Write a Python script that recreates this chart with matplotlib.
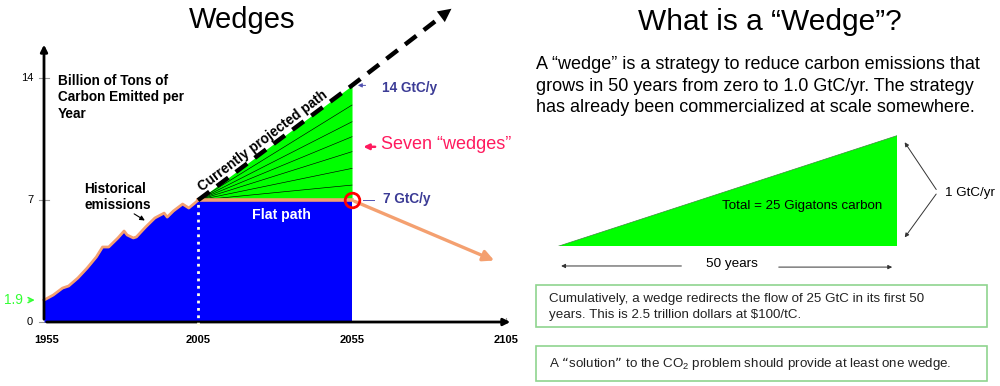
import matplotlib
matplotlib.use("Agg")
import matplotlib.pyplot as plt
from matplotlib.patches import Rectangle

plt.rcParams['font.family'] = ['Liberation Sans', 'DejaVu Sans']

# historical emissions (GtC/yr)
hist_years = [1955, 1958, 1961, 1963, 1966, 1969, 1972, 1974, 1976, 1979, 1981,
              1982, 1984, 1985, 1988, 1991, 1994, 1995, 1997, 2000, 2002, 2004, 2005]
hist_vals = [1.26, 1.55, 1.95, 2.07, 2.53, 3.10, 3.74, 4.31, 4.31, 4.83, 5.23,
             5.00, 4.83, 4.89, 5.46, 5.98, 6.26, 6.03, 6.38, 6.78, 6.55, 6.84, 7.0]

# flat path and projected path
flat_years = [2005, 2055]
flat_vals = [7.0, 7.0]
proj_years = [2005, 2055, 2088]
proj_vals = [7.0, 13.6, 18.1]
# wedge boundaries at 2055
wedge_tops = [7.87, 8.83, 9.79, 10.65, 11.51, 12.47]
# orange "stabilise then decline" arrow
decline_years = [2055, 2102]
decline_vals = [7.0, 3.47]

ytick_vals = [0, 7, 14]
xtick_years = [1955, 2005, 2055, 2105]

# one wedge: 0 -> 1 GtC/yr over 50 years
wedge_x = [0, 50, 50]
wedge_y = [0, 0, 1]

BLUE = '#0000FF'
GREEN = '#00FF00'
ORANGE = '#F4A070'
NAVY = '#3C3C96'
PINK = '#FF1A5E'

fig = plt.figure(figsize=(10, 3.86), dpi=100)


def fx(px):
    return px / 1000


def fy(py):
    return 1 - py / 386


# ---------------- left chart ----------------
ax = fig.add_axes([0.00088, 0.0035, 0.5452, 0.9917])
ax.set_xlim(1941, 2118)
ax.set_ylim(-3.6, 18.4)
ax.axis('off')

ax.fill_between(hist_years, 0, hist_vals, color=BLUE, lw=0, zorder=2)
ax.fill_between(flat_years, 0, flat_vals, color=BLUE, lw=0, zorder=2)
ax.fill_between(proj_years[:2], flat_vals, proj_vals[:2], color=GREEN, lw=0, zorder=2)
for t in wedge_tops:
    ax.plot([2005, 2055], [7, t], color='black', lw=0.45, zorder=3)

ax.plot([2005, 2005], [-0.2, 7], color='#FFFFE8', lw=2, ls=':', zorder=9)
ax.plot(hist_years, hist_vals, color=ORANGE, lw=2, zorder=5)
ax.plot(flat_years, flat_vals, color=ORANGE, lw=2.6, zorder=5)
ax.annotate('', xy=(decline_years[1], decline_vals[1]), xytext=(decline_years[0], decline_vals[0]),
            arrowprops=dict(arrowstyle='-|>', color=ORANGE, lw=2.4, mutation_scale=16), zorder=5)

ax.plot(proj_years[:2] + [proj_years[2] - 2.5], proj_vals[:2] + [proj_vals[2] - 0.34],
        color='black', lw=3.2, dashes=(3.2, 2.1), zorder=6)
ax.annotate('', xy=(proj_years[2], proj_vals[2]), xytext=(proj_years[2] - 3, proj_vals[2] - 0.4),
            arrowprops=dict(arrowstyle='-|>', color='black', lw=0, mutation_scale=24), zorder=6)

ax.plot([2055], [7], marker='o', ms=10.5, mfc='none', mec='red', mew=2, zorder=7)

# axes with arrows
ax.annotate('', xy=(1955, 16.1), xytext=(1955, 0),
            arrowprops=dict(arrowstyle='-|>', color='black', lw=2, mutation_scale=10), zorder=8)
ax.annotate('', xy=(2107.3, 0), xytext=(1955, 0),
            arrowprops=dict(arrowstyle='-|>', color='black', lw=2, mutation_scale=10), zorder=8)
for v in ytick_vals:
    ax.plot([1953.4, 1956.6], [v, v], color='#999999', lw=0.8, zorder=1)
    ax.text(1951.5, v, str(v), ha='right', va='center', fontsize=8)
for yr in xtick_years:
    ax.text(yr if yr != 1955 else 1956, -1.05, str(yr), ha='center', va='center',
            fontsize=8, fontweight='bold')
ax.plot([2105, 2105], [0, 0.25], color='#999999', lw=0.8)

ax.text(1959.4, 14.25, 'Billion of Tons of\nCarbon Emitted per\nYear', ha='left', va='top',
        fontsize=9.8, fontweight='bold', linespacing=1.22)
ax.text(1968, 8.05, 'Historical\nemissions', ha='left', va='top',
        fontsize=9.8, fontweight='bold', linespacing=1.18)
ax.annotate('', xy=(1988.5, 5.75), xytext=(1983.5, 6.3),
            arrowprops=dict(arrowstyle='-|>', color='black', lw=0.8, mutation_scale=7))
ax.text(2025.9, 10.41, 'Currently projected path', rotation=37, ha='center', va='center',
        fontsize=9.8, fontweight='bold', rotation_mode='anchor')
ax.text(2032, 6.15, 'Flat path', color='white', ha='center', va='center',
        fontsize=10.2, fontweight='bold', zorder=9)

ax.text(2064.6, 13.45, '14 GtC/y', color=NAVY, ha='left', va='center', fontsize=9.8, fontweight='bold')
ax.annotate('', xy=(2056, 13.6), xytext=(2060.3, 13.6),
            arrowprops=dict(arrowstyle='-|>', color='#5050B0', lw=0.7, mutation_scale=6))
ax.text(2065.0, 7.05, '7 GtC/y', color=NAVY, ha='left', va='center', fontsize=9.8, fontweight='bold')
ax.plot([2058.5, 2062], [7, 7], color='#5050B0', lw=0.7)
ax.text(2064.4, 10.2, 'Seven \u201cwedges\u201d', color=PINK, ha='left', va='center', fontsize=13)
ax.annotate('', xy=(2057.8, 10.07), xytext=(2063.4, 10.07),
            arrowprops=dict(arrowstyle='-|>', color=PINK, lw=1.8, mutation_scale=8))
ax.text(1948.2, 1.26, '1.9', color='#33FF33', ha='right', va='center', fontsize=9.8)
ax.annotate('', xy=(1952.9, 1.26), xytext=(1949.2, 1.26),
            arrowprops=dict(arrowstyle='->', color='#33FF33', lw=1.1, mutation_scale=9))

fig.text(fx(242), fy(28.5), 'Wedges', ha='center', va='baseline', fontsize=21)

# ---------------- right side ----------------
fig.text(fx(770), fy(30), 'What is a \u201cWedge\u201d?', ha='center', va='baseline', fontsize=21.5)
para = ['A \u201cwedge\u201d is a strategy to reduce carbon emissions that',
        'grows in 50 years from zero to 1.0 GtC/yr. The strategy',
        'has already been commercialized at scale somewhere.']
for i, line in enumerate(para):
    fig.text(fx(536.5), fy(69 + 21.6 * i), line, ha='left', va='baseline', fontsize=13)

ax2 = fig.add_axes([0.557, 0.3627, 0.340, 0.2876])
ax2.set_xlim(0, 50)
ax2.set_ylim(0, 1)
ax2.axis('off')
ax2.fill(wedge_x, wedge_y, color=GREEN, ec='#3a8a3a', lw=0.5)
ax2.text(24.2, 0.33, 'Total = 25 Gigatons carbon', ha='left', va='baseline', fontsize=9.6)

ax2.annotate('', xy=(50.9, 0.955), xytext=(56.0, 0.488),
             arrowprops=dict(arrowstyle='-|>', color='#333333', lw=0.7, mutation_scale=6),
             annotation_clip=False)
ax2.annotate('', xy=(50.9, 0.057), xytext=(56.0, 0.488),
             arrowprops=dict(arrowstyle='-|>', color='#333333', lw=0.7, mutation_scale=6),
             annotation_clip=False)
ax2.text(57.1, 0.48, '1 GtC/yr', ha='left', va='center', fontsize=9.6)

ax2.annotate('', xy=(0.2, -0.18), xytext=(18.7, -0.18),
             arrowprops=dict(arrowstyle='-|>', color='#333333', lw=0.7, mutation_scale=6),
             annotation_clip=False)
ax2.annotate('', xy=(49.7, -0.19), xytext=(32.2, -0.19),
             arrowprops=dict(arrowstyle='-|>', color='#333333', lw=0.7, mutation_scale=6),
             annotation_clip=False)
ax2.text(25.7, -0.165, '50 years', ha='center', va='center', fontsize=9.7)

for (y0, y1) in [(285, 327.3), (346, 381)]:
    fig.patches.append(Rectangle((fx(535.7), fy(y1)), fx(986.7) - fx(535.7), fy(y0) - fy(y1),
                                 transform=fig.transFigure, fill=False, ec='#8FD48F', lw=1.2))
fig.text(fx(549.3), fy(301.7), 'Cumulatively, a wedge redirects the flow of 25 GtC in its first 50',
         ha='left', va='baseline', fontsize=9.6, color='#222222')
fig.text(fx(549.3), fy(318.3), 'years. This is 2.5 trillion dollars at $100/tC.',
         ha='left', va='baseline', fontsize=9.6, color='#222222')
fig.text(fx(549.3), fy(366.7),
         'A \u201csolution\u201d to the CO$_\\mathregular{2}$ problem should provide at least one wedge.',
         ha='left', va='baseline', fontsize=9.6, color='#222222')

fig.savefig('out.png', dpi=100)
